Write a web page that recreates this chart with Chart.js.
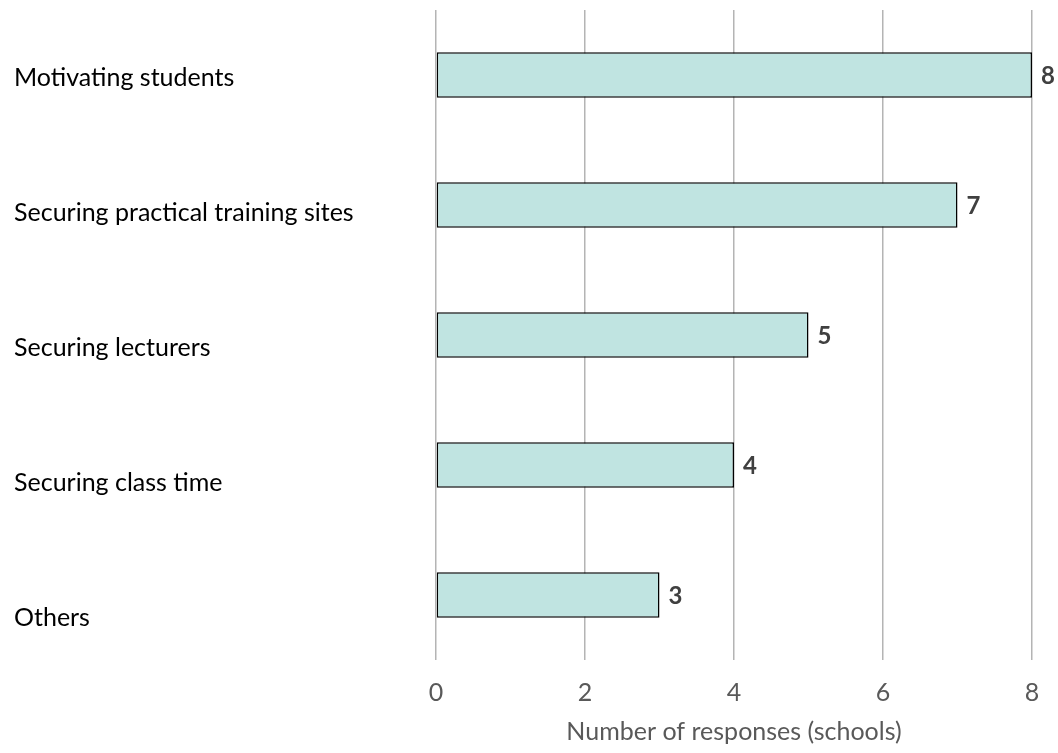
<!DOCTYPE html>
<html>
<head>
<meta charset="utf-8">
<script src="https://cdn.jsdelivr.net/npm/chart.js@4/dist/chart.umd.min.js"></script>
<style>
  html, body { margin: 0; padding: 0; background: #ffffff; }
  #wrap { width: 1058px; height: 753px; position: relative; }
</style>
</head>
<body>
<div id="wrap"><canvas id="chart" width="1058" height="753"></canvas></div>
<script>
// Difficulties reported by schools
const categories = [
  'Motivating students',
  'Securing practical training sites',
  'Securing lecturers',
  'Securing class time',
  'Others'
];
const responses = [8, 7, 5, 4, 3];
const xTicks = [0, 2, 4, 6, 8];
const xTitle = 'Number of responses (schools)';

const FONT = 'Lato, "Open Sans", sans-serif';

// Category names drawn left-aligned at the page edge
const categoryLabels = {
  id: 'categoryLabels',
  afterDraw(chart) {
    const { ctx, chartArea } = chart;
    const y = chart.scales.y;
    ctx.save();
    ctx.font = '25px ' + FONT;
    ctx.fillStyle = '#000000';
    ctx.textAlign = 'left';
    ctx.textBaseline = 'middle';
    categories.forEach((c, i) => {
      const py = y.getPixelForValue(i);
      ctx.fillText(c, 14, chartArea.top + (py - chartArea.top) * 1.04);
    });
    ctx.restore();
  }
};

// Value printed just past the end of each bar
const valueLabels = {
  id: 'valueLabels',
  afterDatasetsDraw(chart) {
    const { ctx } = chart;
    const meta = chart.getDatasetMeta(0);
    ctx.save();
    ctx.font = 'bold 24px ' + FONT;
    ctx.fillStyle = '#404040';
    ctx.textAlign = 'left';
    ctx.textBaseline = 'middle';
    meta.data.forEach((bar, i) => {
      ctx.fillText(String(chart.data.datasets[0].data[i]), bar.x + 9, bar.y + 1);
    });
    ctx.restore();
  }
};

new Chart(document.getElementById('chart'), {
  type: 'bar',
  data: {
    labels: categories,
    datasets: [{
      data: responses,
      backgroundColor: '#c0e4e1',
      borderColor: '#000000',
      borderWidth: 1.5,
      borderSkipped: false,
      barPercentage: 0.35,
      categoryPercentage: 1.0
    }]
  },
  options: {
    indexAxis: 'y',
    responsive: false,
    animation: false,
    devicePixelRatio: 1,
    layout: { padding: { left: 436, right: 26, top: 10, bottom: 0 } },
    plugins: {
      legend: { display: false },
      tooltip: { enabled: false },
      title: { display: false }
    },
    scales: {
      x: {
        type: 'linear',
        min: 0,
        max: 8,
        afterBuildTicks(scale) {
          scale.ticks = xTicks.map(v => ({ value: v }));
        },
        afterFit(scale) {
          scale.height = 93;
        },
        border: { display: false },
        grid: { color: '#b4b4b4', lineWidth: 1.5, drawTicks: false },
        ticks: {
          padding: 18,
          color: '#595959',
          font: { family: FONT, size: 25 }
        },
        title: {
          display: true,
          text: xTitle,
          color: '#595959',
          font: { family: FONT, size: 25 },
          padding: { top: 10, bottom: 6 }
        }
      },
      y: {
        type: 'category',
        display: false
      }
    }
  },
  plugins: [categoryLabels, valueLabels]
});
</script>
</body>
</html>
